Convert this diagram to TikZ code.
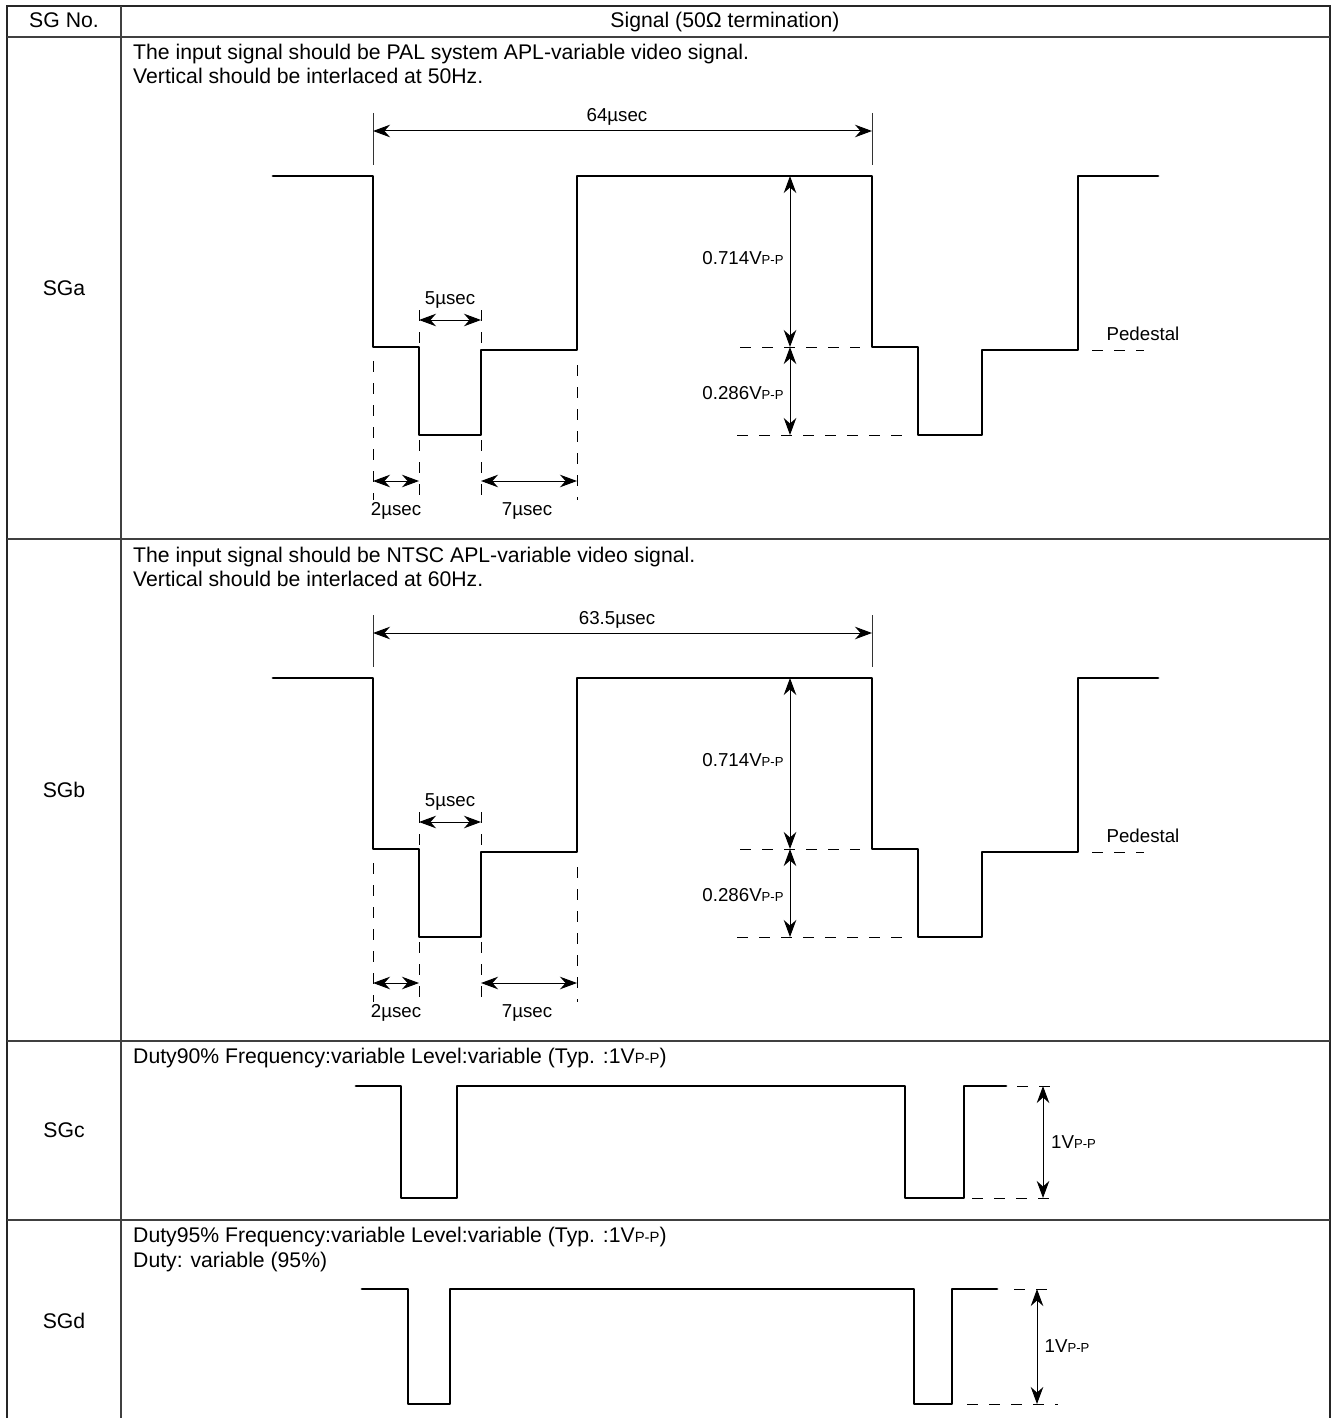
\documentclass[tikz,border=0pt]{standalone}
\usepackage{fontspec}
\setmainfont{Liberation Sans}
\usetikzlibrary{arrows.meta}
\newcommand{\vpp}{V{\fontsize{0.7em}{1em}\selectfont P-P}}
\begin{document}
\begin{tikzpicture}[x=1pt,y=-1pt]
\tikzstyle{frame}=[line width=2.4pt,black!85]
\tikzstyle{grid}=[line width=1.5pt,black!75]
\tikzstyle{wave}=[line width=2.8pt,line join=round,line cap=round]
\tikzstyle{dim}=[line width=1pt,{Stealth[length=17pt,width=12.5pt,inset=5.5pt]}-{Stealth[length=17pt,width=12.5pt,inset=5.5pt]}]
\tikzstyle{ext}=[line width=1pt,black!80]
\tikzstyle{guide}=[line width=1pt,dash pattern=on 11pt off 11pt]
\tikzstyle{txt}=[inner sep=0pt,anchor=base west,font=\fontsize{21.2}{24}\selectfont]
\tikzstyle{hd}=[inner sep=0pt,anchor=base,font=\fontsize{21.2}{24}\selectfont]
\tikzstyle{lbl}=[inner sep=0pt,anchor=base,font=\fontsize{18.7}{22}\selectfont]
\useasboundingbox (0,0) rectangle (1332,1418);
% table
\draw[frame] (7,1418) -- (7,6) -- (1330,6) -- (1330,1418);
\draw[grid] (121,6) -- (121,1418);
\foreach \rowy in {37,539,1041,1220} \draw[grid] (7,\rowy) -- (1330,\rowy);
\node[hd] (hdno) at (64,28) {SG No.};
\node[hd] (hdsig) at (725,28) {Signal (50Ω termination)};
% PAL and NTSC rows
\foreach \sgname/\dy/\period/\sys/\vfreq in {a/0/64/PAL system/50,b/502/63.5/NTSC/60} {
\begin{scope}[yshift=-\dy pt]
\node[hd] (sg\sgname) at (64,295) {SG\sgname};
\node[txt] (one\sgname) at (133,60) {The input signal should be \sys{} APL-variable video signal.};
\node[txt] (two\sgname) at (133,84) {Vertical should be interlaced at \vfreq Hz.};
\draw[wave] (273,176) -- (373,176) -- (373,347) -- (419,347) -- (419,435) -- (481,435) -- (481,350) -- (577,350) -- (577,176) -- (872,176) -- (872,347) -- (918,347) -- (918,435) -- (982,435) -- (982,350) -- (1078,350) -- (1078,176) -- (1158,176);
% period
\draw[ext] (373,113) -- (373,165);
\draw[ext] (872,113) -- (872,165);
\draw[dim] (373,131) -- (872,131);
\node[lbl] (per\sgname) at (617,122) {\period\textmu sec};
% levels
\draw[dim] (790,176) -- (790,347);
\draw[dim] (790,347) -- (790,435);
\draw[guide] (740,347) -- (860,347);
\draw[guide] (737,435) -- (905,435);
\draw[guide] (1092,350.5) -- (1144,350.5);
\node[lbl] (hi\sgname) at (743,264) {0.714\vpp};
\node[lbl] (lo\sgname) at (743,399) {0.286\vpp};
\node[lbl] (ped\sgname) at (1143,340) {Pedestal};
% sync timing
\draw[guide] (419,310) -- (419,347);
\draw[guide] (481,310) -- (481,350);
\draw[dim] (419,320) -- (481,320);
\node[lbl] (syn\sgname) at (450,304) {5\textmu sec};
\draw[guide] (373,361) -- (373,500);
\draw[guide] (419,440) -- (419,500);
\draw[guide] (481,440) -- (481,500);
\draw[guide] (577,365) -- (577,500);
\draw[dim] (373,481) -- (419,481);
\draw[dim] (481,481) -- (577,481);
\node[lbl] (fp\sgname) at (396,515) {2\textmu sec};
\node[lbl] (bp\sgname) at (527,515) {7\textmu sec};
\end{scope}
}
% SGc
\node[hd] (sgc) at (64,1137) {SGc};
\node[txt] (onec) at (133,1063) {Duty90\% Frequency:variable Level:variable (Typ. :1\vpp)};
\draw[wave] (356,1086) -- (401,1086) -- (401,1198) -- (457,1198) -- (457,1086) -- (905,1086) -- (905,1198) -- (964,1198) -- (964,1086) -- (1006,1086);
\draw[guide] (1017,1086) -- (1060,1086);
\draw[guide] (972,1198) -- (1060,1198);
\draw[dim] (1043,1086) -- (1043,1198);
\node[lbl] (voltc) at (1073.5,1148) {1\vpp};
% SGd
\node[hd] (sgd) at (64,1328) {SGd};
\node[txt] (oned) at (133,1242) {Duty95\% Frequency:variable Level:variable (Typ. :1\vpp)};
\node[txt] (twod) at (133,1267) {Duty: variable (95\%)};
\draw[wave] (362,1289) -- (408,1289) -- (408,1404) -- (450,1404) -- (450,1289) -- (914,1289) -- (914,1404) -- (952,1404) -- (952,1289) -- (997,1289);
\draw[guide] (1014,1289) -- (1058,1289);
\draw[guide] (967,1404) -- (1058,1404);
\draw[dim] (1037,1289) -- (1037,1404);
\node[lbl] (voltd) at (1067,1352) {1\vpp};
\end{tikzpicture}
\end{document}
